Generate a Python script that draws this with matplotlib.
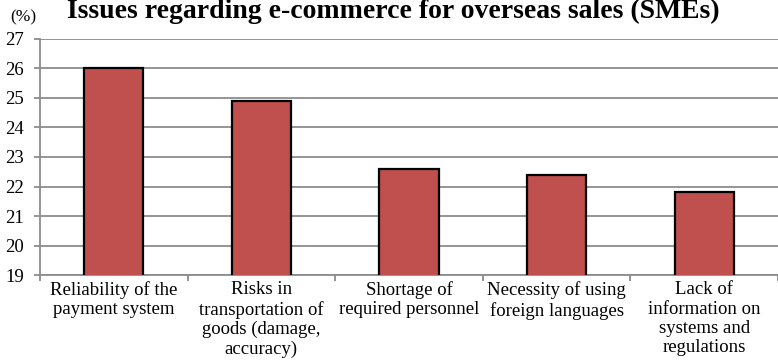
import matplotlib
matplotlib.use('Agg')
import matplotlib.pyplot as plt
import numpy as np

categories = [
    "Reliability of the\npayment system",
    "Risks in\ntransportation of\ngoods (damage,\naccuracy)",
    "Shortage of\nrequired personnel",
    "Necessity of using\nforeign languages",
    "Lack of\ninformation on\nsystems and\nregulations",
]
values = [26.0, 24.9, 22.6, 22.4, 21.8]
y_ticks = [19, 20, 21, 22, 23, 24, 25, 26, 27]

plt.rcParams['font.family'] = ['Liberation Serif', 'DejaVu Serif']

fig = plt.figure(figsize=(7.78, 3.63), dpi=100)
ax = fig.add_axes([0.0514, 0.2424, 0.9486, 0.6502])

x = np.arange(len(values))
ax.bar(x, values, width=0.4, bottom=0, color='#c0504d', edgecolor='black', linewidth=1.6, zorder=3)

ax.set_xlim(-0.5, len(values) - 0.5)
ax.set_ylim(19, 27)
ax.set_yticks(y_ticks)
ax.yaxis.grid(True, color='#8c8c8c', linewidth=1.3, zorder=0)
ax.set_axisbelow(True)

# category boundaries carry the x tick marks
ax.set_xticks(np.arange(len(values) + 1) - 0.5)
ax.set_xticklabels([])
ax.set_xticks(x, minor=True)
ax.set_xticklabels(categories, minor=True, fontsize=13.5, linespacing=1.18, va='top')
ax.tick_params(axis='x', which='minor', length=0, pad=4.5)
ax.tick_params(axis='x', which='major', length=4, color='#8c8c8c', width=1.3)
ax.tick_params(axis='y', length=4.5, color='#8c8c8c', width=1.3, labelsize=13.5, pad=7)

for side in ['top', 'right']:
    ax.spines[side].set_visible(False)
for side in ['left', 'bottom']:
    ax.spines[side].set_color('#8c8c8c')
    ax.spines[side].set_linewidth(1.3)

fig.text(0.505, 0.950, "Issues regarding e-commerce for overseas sales (SMEs)",
         ha='center', va='baseline', fontsize=20, fontweight='bold')
fig.text(0.030, 0.953, "(%)", ha='center', va='center', fontsize=12.5)

fig.savefig('out.png', dpi=100)
